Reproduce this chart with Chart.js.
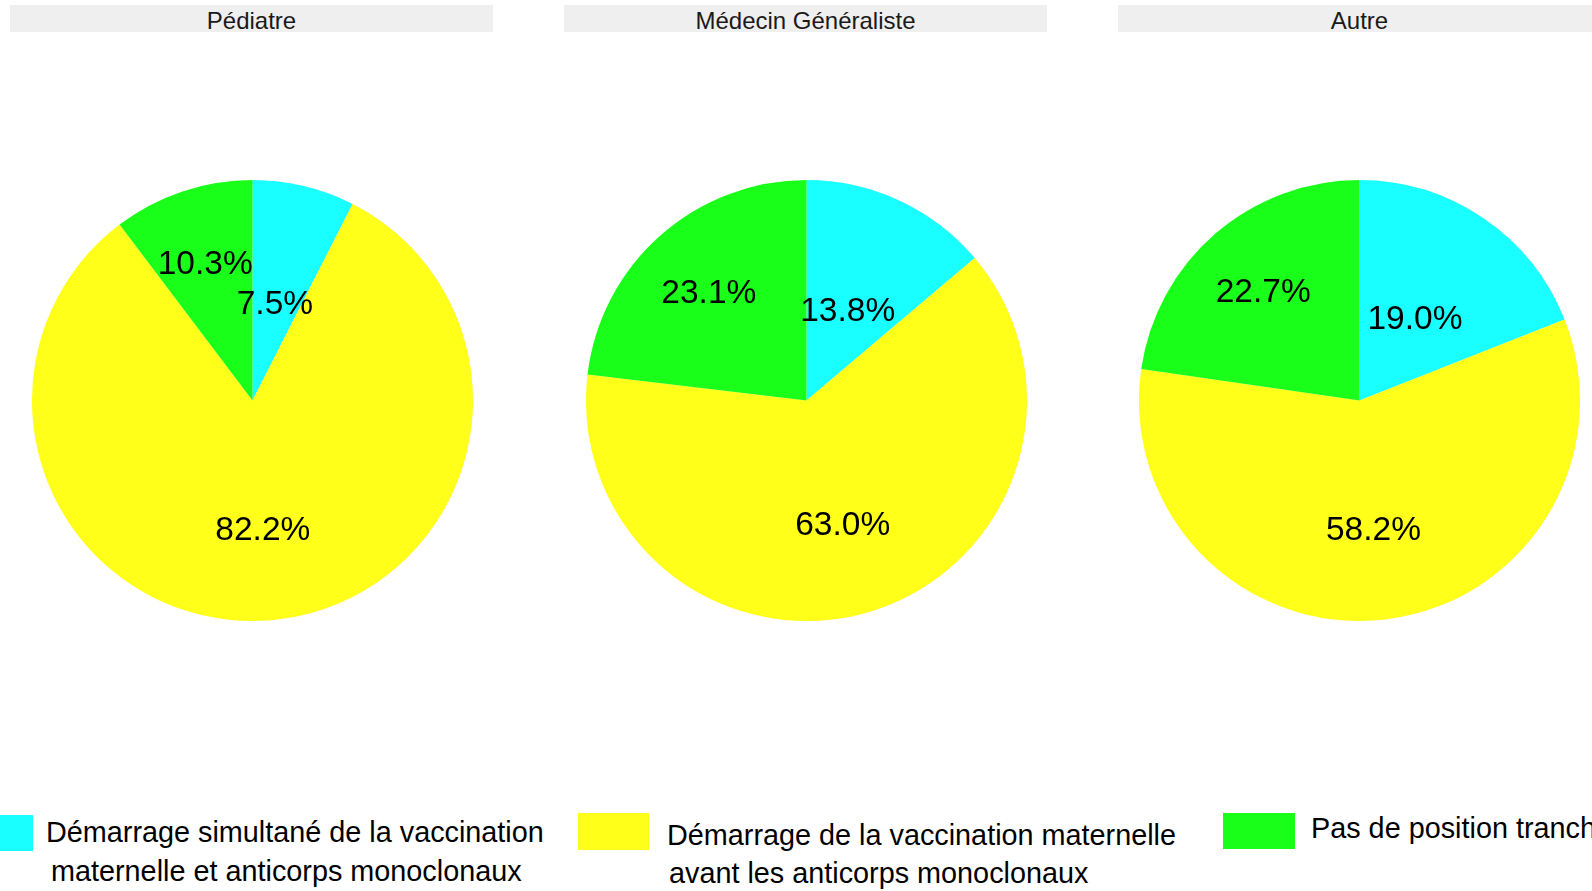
<!DOCTYPE html>
<html>
<head>
<meta charset="utf-8">
<script src="https://cdn.jsdelivr.net/npm/chart.js@4.4.0/dist/chart.umd.min.js"></script>
<style>
  html, body { margin: 0; padding: 0; background: #ffffff; }
  body { width: 1592px; height: 891px; position: relative; overflow: hidden; font-family: "Liberation Sans", Arial, sans-serif; }
  .strip { position: absolute; top: 5px; height: 27px; background: #efefef; color: #1a1a1a; font-size: 24px; line-height: 31px; text-align: center; overflow: hidden; }
  .pie { position: absolute; top: 179.5px; width: 441px; height: 441px; }
  .lbox { position: absolute; }
  .ltxt { position: absolute; font-size: 28.8px; color: #000; white-space: nowrap; line-height: 1; }
</style>
</head>
<body>
<script>
// ---- data ----
const panels = ['Pédiatre', 'Médecin Généraliste', 'Autre'];
const categories = [
  'Démarrage simultané de la vaccination maternelle et anticorps monoclonaux',
  'Démarrage de la vaccination maternelle avant les anticorps monoclonaux',
  'Pas de position tranchée'
];
const pediatre = [7.5, 82.2, 10.3];
const generaliste = [13.8, 63.0, 23.1];
const autre = [19.0, 58.2, 22.7];

// ---- styles / layout ----
const colors = ['#19ffff', '#ffff19', '#19ff19'];
const labelRadius = [0.455, 0.585, 0.66];
const stripLeft = [10, 564, 1118];
const stripWidth = 483;
const pieCenterX = [252, 806, 1359];
const seriesList = [pediatre, generaliste, autre];

// legend layout (boxes and wrapped text lines)
const legendBoxes = [
  {x: -38, y: 815, w: 70.5, h: 36},
  {x: 578, y: 813, w: 71, h: 37},
  {x: 1223, y: 813, w: 72, h: 36}
];
const legendLines = [
  [{x: 46, y: 832.5, t: 'Démarrage simultané de la vaccination'}, {x: 51, y: 871, t: 'maternelle et anticorps monoclonaux'}],
  [{x: 667, y: 835, t: 'Démarrage de la vaccination maternelle'}, {x: 669, y: 873, t: 'avant les anticorps monoclonaux'}],
  [{x: 1311, y: 828.5, t: 'Pas de position tranchée'}]
];

const labelPlugin = {
  id: 'sliceLabels',
  afterDatasetsDraw(chart) {
    const ctx = chart.ctx;
    const meta = chart.getDatasetMeta(0);
    const ds = chart.data.datasets[0];
    ctx.save();
    ctx.font = '33.5px "Liberation Sans", Arial, sans-serif';
    ctx.fillStyle = '#000';
    ctx.textAlign = 'center';
    ctx.textBaseline = 'middle';
    meta.data.forEach((arc, i) => {
      const p = arc.getProps(['x', 'y', 'startAngle', 'endAngle', 'outerRadius'], true);
      const mid = (p.startAngle + p.endAngle) / 2;
      const r = p.outerRadius * labelRadius[i];
      ctx.fillText(ds.data[i].toFixed(1) + '%', p.x + Math.cos(mid) * r - 1, p.y + Math.sin(mid) * r + 2);
    });
    ctx.restore();
  }
};

panels.forEach((name, k) => {
  const strip = document.createElement('div');
  strip.className = 'strip';
  strip.style.left = stripLeft[k] + 'px';
  strip.style.width = stripWidth + 'px';
  strip.textContent = name;
  document.body.appendChild(strip);

  const wrap = document.createElement('div');
  wrap.className = 'pie';
  wrap.style.left = (pieCenterX[k] - 220.5) + 'px';
  const canvas = document.createElement('canvas');
  wrap.appendChild(canvas);
  document.body.appendChild(wrap);

  new Chart(canvas, {
    type: 'pie',
    data: {
      labels: categories,
      datasets: [{
        data: seriesList[k],
        backgroundColor: colors,
        borderWidth: 0,
        hoverOffset: 0
      }]
    },
    options: {
      responsive: true,
      maintainAspectRatio: false,
      animation: false,
      layout: { padding: 0 },
      plugins: { legend: { display: false }, tooltip: { enabled: false }, title: { display: false } },
      events: []
    },
    plugins: [labelPlugin]
  });
});

categories.forEach((c, i) => {
  const b = legendBoxes[i];
  const box = document.createElement('div');
  box.className = 'lbox';
  box.style.left = b.x + 'px';
  box.style.top = b.y + 'px';
  box.style.width = b.w + 'px';
  box.style.height = b.h + 'px';
  box.style.background = colors[i];
  document.body.appendChild(box);
  legendLines[i].forEach(l => {
    const t = document.createElement('div');
    t.className = 'ltxt';
    t.style.left = l.x + 'px';
    t.style.top = (l.y - 14.4) + 'px';
    t.textContent = l.t;
    document.body.appendChild(t);
  });
});
</script>
</body>
</html>
